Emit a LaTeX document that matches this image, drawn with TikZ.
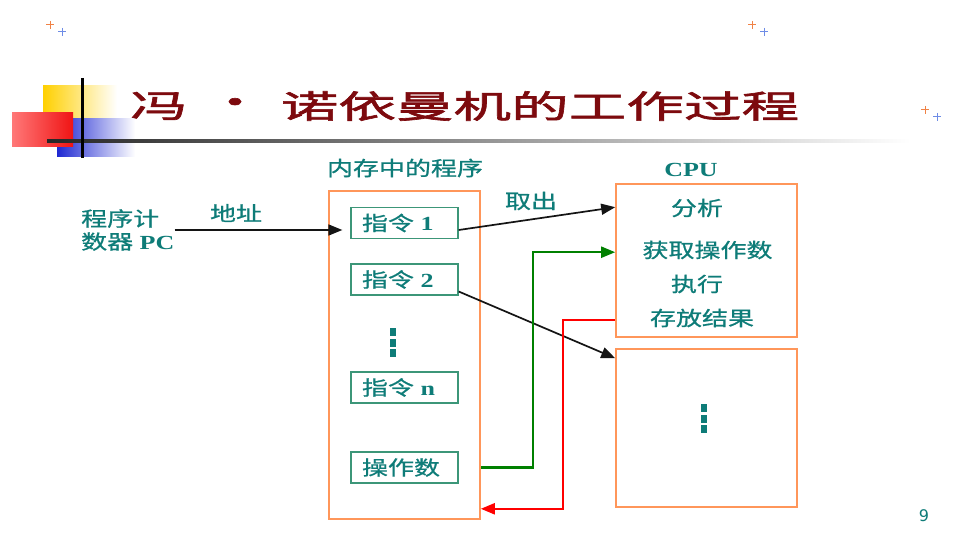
\documentclass[tikz,border=0pt]{standalone}
\usepackage{fontspec}
\usetikzlibrary{arrows.meta,calc}
\setmainfont{Liberation Serif}[FakeStretch=1.3]
\newfontfamily\cjk{Noto Sans CJK SC}[FakeStretch=1.3,FakeBold=0.8]
\newfontfamily\titlecjk{Noto Sans CJK SC}[FakeStretch=1.8,FakeBold=2]
\newfontfamily\numfont{DejaVu Sans}
\newcommand\zh[1]{{\cjk #1}}
\definecolor{tealc}{RGB}{14,124,120}
\definecolor{insg}{RGB}{60,150,120}
\definecolor{orangeb}{RGB}{255,150,90}
\definecolor{titlered}{RGB}{125,10,14}
\definecolor{sparkor}{RGB}{240,130,70}
\definecolor{sparkbl}{RGB}{110,140,230}
\definecolor{darrow}{RGB}{20,20,20}
\definecolor{garrow}{RGB}{0,128,0}
\definecolor{rarrow}{RGB}{255,0,0}
\begin{document}
\begin{tikzpicture}[x=1pt,y=-1pt,
  txt/.style={text=tealc, inner sep=0, font=\fontsize{20}{23}\selectfont},
  insbox/.style={draw=insg, line width=1.3pt, minimum width=107, minimum height=31,
    text width=85, align=left, inner xsep=11, inner ysep=0, text=tealc,
    font=\fontsize{20}{23}\selectfont},
  bigbox/.style={draw=orangeb, line width=1.6pt, inner sep=0},
  arr/.style={draw=darrow, line width=1.7pt, -{Triangle[length=14pt,width=11pt]}},
  garr/.style={draw=garrow, line width=2.2pt, -{Triangle[length=14pt,width=11pt]}},
  rarr/.style={draw=rarrow, line width=2.2pt, -{Triangle[length=14pt,width=11pt]}},
  dotsq/.style={fill=tealc, draw=none},
  spark/.style={line width=1pt}]
\useasboundingbox (0,0) rectangle (960,540);
\fill[white] (0,0) rectangle (960,540);

% title decoration
\shade[left color={rgb,255:red,255;green,208;blue,0}, right color=white] (43,86) rectangle (117,120);
\shade[left color={rgb,255:red,30;green,40;blue,210}, right color=white] (57,119) rectangle (135,157);
\shade[left color={rgb,255:red,255;green,120;blue,120}, right color={rgb,255:red,240;green,20;blue,20}] (12,113) rectangle (73,147);
\shade[left color=black!85, right color=white] (47,140) rectangle (910,143);
\draw[black, line width=3pt] (82,78) -- (82,158);

% sparkles
\foreach \sx/\sy in {50/25, 752/25, 925/110}{
  \draw[spark, sparkor] (\sx-4,\sy) -- (\sx+4,\sy) (\sx,\sy-4) -- (\sx,\sy+4);
  \draw[spark, sparkbl] (\sx+8,\sy+7) -- (\sx+16,\sy+7) (\sx+12,\sy+3) -- (\sx+12,\sy+11);
}

% title
\node[text=titlered, inner sep=0, font=\titlecjk\fontsize{32}{34}\selectfont] (t1) at (159,106) {冯};
\node[text=titlered, inner sep=0, font=\titlecjk\fontsize{32}{34}\selectfont] (t2) at (235,106) {•};
\node[text=titlered, inner sep=0, font=\titlecjk\fontsize{32}{34}\selectfont] (t3) at (540,106) {诺依曼机的工作过程};

% memory
\node[txt] (memlbl) at (405,168) {\zh{内存中的程序}};
\node[bigbox, minimum width=151, minimum height=328] (mem) at (404.5,355) {};
\node[insbox] (i1) at (404.5,223) {\zh{指令} \textbf{1}};
\node[insbox] (i2) at (404.5,279.5) {\zh{指令} \textbf{2}};
\node[insbox] (in) at (404.5,387.5) {\zh{指令} \textbf{n}};
\node[insbox] (op) at (404.5,467.5) {\zh{操作数}};
\fill[dotsq] (390,328) rectangle (396,336);
\fill[dotsq] (390,338.5) rectangle (396,346.5);
\fill[dotsq] (390,349) rectangle (396,357);

% CPU
\node[txt, font=\fontsize{20}{23}\selectfont\bfseries] (cpulbl) at (691,170) {CPU};
\node[bigbox, minimum width=181, minimum height=153] (cpu) at (706.5,260.5) {};
\node[txt] (fx) at (697,208) {\zh{分析}};
\node[txt] (hq) at (707.5,250) {\zh{获取操作数}};
\node[txt] (zx) at (697,284) {\zh{执行}};
\node[txt] (cf) at (702,318) {\zh{存放结果}};
\node[bigbox, minimum width=181, minimum height=158] (box2) at (706.5,428) {};
\fill[dotsq] (701,404) rectangle (707,412);
\fill[dotsq] (701,414.5) rectangle (707,422.5);
\fill[dotsq] (701,425) rectangle (707,433);

% PC
\node[txt, align=left, anchor=west] (pc) at (81,230) {\zh{程序计}\\\zh{数器} \textbf{PC}};
\node[txt] (addr) at (236,213) {\zh{地址}};
\node[txt] (qc) at (531,201) {\zh{取出}};

% arrows
\coordinate (pcend) at ($(i1.west)+(-8,7)$);
\draw[arr] (pc.east |- pcend) -- (pcend);
\draw[arr] ($(i1.east)+(0,7)$) -- ($(cpu.north west)+(0,24)$);
\draw[arr] ($(i2.east)+(0,12)$) -- ($(box2.north west)+(0,10)$);

\coordinate (gin) at ($(cpu.north west)+(0,69)$);
\coordinate (gx) at (533,0);
\draw[garr] (op -| mem.east) -| (gx |- gin) -- (gin);

\coordinate (rout) at ($(cpu.north west)+(0,137)$);
\coordinate (rx) at (563,0);
\coordinate (rin) at ($(mem.south east)+(0,-11)$);
\draw[rarr] (rout) -| (rx |- rin) -- (rin);

% page number
\node[text=tealc, inner sep=0, font=\numfont\fontsize{16}{16}\selectfont] (pg) at (924,516) {9};
\end{tikzpicture}
\end{document}
